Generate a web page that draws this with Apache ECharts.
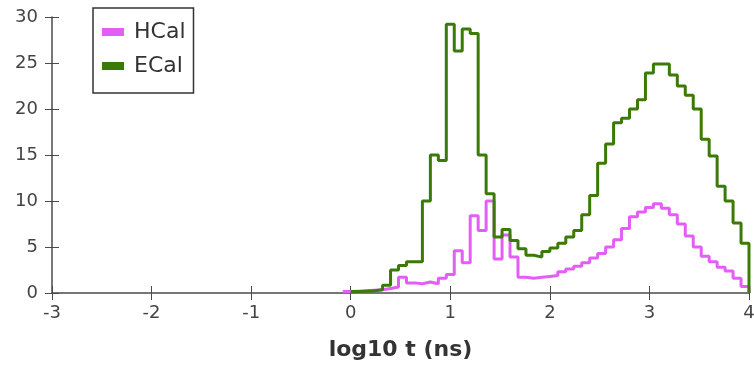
<!DOCTYPE html>
<html>
<head>
<meta charset="utf-8">
<script src="https://cdn.jsdelivr.net/npm/echarts@6/dist/echarts.min.js"></script>
<style>
html,body{margin:0;padding:0;background:#fff;}
#c{width:754px;height:365px;}
</style>
</head>
<body>
<div id="c"></div>
<script>
// Histogram binning (log10 t axis)
const binWidth = 0.08;
const hcalStart = -0.08;
const ecalStart = 0.0;
const xTicks = [-3, -2, -1, 0, 1, 2, 3, 4];
const yTicks = [0, 5, 10, 15, 20, 25, 30];

// Bin contents
const hcalValues = [0.15,0.2,0.25,0.3,0.35,0.5,0.65,1.7,1.1,1.0,1.2,1.0,1.6,2.0,4.6,3.3,8.4,6.8,10.0,3.7,6.3,3.9,1.7,1.6,1.7,1.8,1.9,2.3,2.6,2.9,3.3,3.8,4.3,5.0,5.8,7.0,8.3,8.8,9.3,9.7,9.2,8.5,7.5,6.2,5.0,4.0,3.4,2.8,2.4,1.6,0.7];
const ecalValues = [0.15,0.2,0.25,0.35,0.85,2.5,3.0,3.4,3.4,10.0,15.0,14.4,29.2,26.3,28.7,28.2,15.0,10.8,6.1,6.9,5.7,4.8,4.1,3.9,4.5,4.9,5.4,6.1,6.8,8.5,10.6,14.1,16.2,18.5,19.0,20.0,21.0,23.9,24.9,24.9,23.7,22.5,21.5,20.0,16.7,14.9,11.6,10.0,7.6,5.4];

function histPoints(start, vals) {
  const pts = vals.map((v, i) => [+(start + i * binWidth).toFixed(4), v]);
  const end = +(start + vals.length * binWidth).toFixed(4);
  pts.push([end, vals[vals.length - 1]]);
  pts.push([end, 0]);
  return pts;
}

const FONT = 'DejaVu Sans';
const axisColor = '#4a4a4a';
const labelColor = '#444';
const W = 754, H = 365;
const G = {left: 52, right: 5, top: 17, bottom: 72, containLabel: false, outerBoundsMode: 'none'};
const gridW = W - G.left - G.right;
const gridH = H - G.top - G.bottom;

const chart = echarts.init(document.getElementById('c'), null, {renderer: 'canvas'});
const xBase = {
  type: 'value', min: xTicks[0], max: xTicks[xTicks.length - 1], interval: 1,
  splitLine: {show: false}
};
const yBase = {
  type: 'value', min: yTicks[0], max: yTicks[yTicks.length - 1], interval: 5,
  splitLine: {show: false}
};
chart.setOption({
  animation: false,
  grid: G,
  legend: {
    orient: 'vertical', left: 93, top: 8,
    padding: [13, 8, 16, 9], itemGap: 12,
    itemWidth: 22, itemHeight: 8,
    borderColor: '#333', borderWidth: 1.5,
    textStyle: {fontFamily: FONT, fontSize: 22, color: '#333', padding: [0, 0, 0, 5]},
    data: [{name: 'HCal', icon: 'rect'}, {name: 'ECal', icon: 'rect'}]
  },
  xAxis: [
    Object.assign({}, xBase, {
      position: 'bottom',
      name: 'log10 t (ns)', nameLocation: 'middle', nameGap: 46,
      nameTextStyle: {fontFamily: FONT, fontSize: 22, fontWeight: 'bold', color: '#333'},
      axisLine: {show: true, onZero: false, lineStyle: {color: axisColor, width: 1.5}},
      axisTick: {show: true, inside: false, length: 7, lineStyle: {color: axisColor, width: 1}},
      axisLabel: {fontFamily: FONT, fontSize: 18, color: labelColor, margin: 11}
    }),
    Object.assign({}, xBase, {
      position: 'top', offset: -gridH,
      axisLine: {show: false, onZero: false},
      axisTick: {show: true, inside: false, length: 7, lineStyle: {color: axisColor, width: 1}},
      axisLabel: {show: false}
    })
  ],
  yAxis: [
    Object.assign({}, yBase, {
      position: 'left',
      axisLine: {show: true, onZero: false, lineStyle: {color: axisColor, width: 1.5}},
      axisTick: {show: true, inside: false, length: 7, lineStyle: {color: axisColor, width: 1}},
      axisLabel: {fontFamily: FONT, fontSize: 18, color: labelColor, margin: 14}
    }),
    Object.assign({}, yBase, {
      position: 'right', offset: -gridW,
      axisLine: {show: false, onZero: false},
      axisTick: {show: true, inside: false, length: 7, lineStyle: {color: axisColor, width: 1}},
      axisLabel: {show: false}
    })
  ],
  series: [
    {
      name: 'HCal', type: 'line', step: 'end', showSymbol: false, symbol: 'none',
      xAxisIndex: 0, yAxisIndex: 0, z: 2,
      itemStyle: {color: '#e35ef5'},
      lineStyle: {color: '#e35ef5', width: 3},
      data: histPoints(hcalStart, hcalValues)
    },
    {
      name: 'ECal', type: 'line', step: 'end', showSymbol: false, symbol: 'none',
      xAxisIndex: 0, yAxisIndex: 0, z: 3,
      itemStyle: {color: '#3b7a06'},
      lineStyle: {color: '#3b7a06', width: 3},
      data: histPoints(ecalStart, ecalValues)
    }
  ]
});
</script>
</body>
</html>
